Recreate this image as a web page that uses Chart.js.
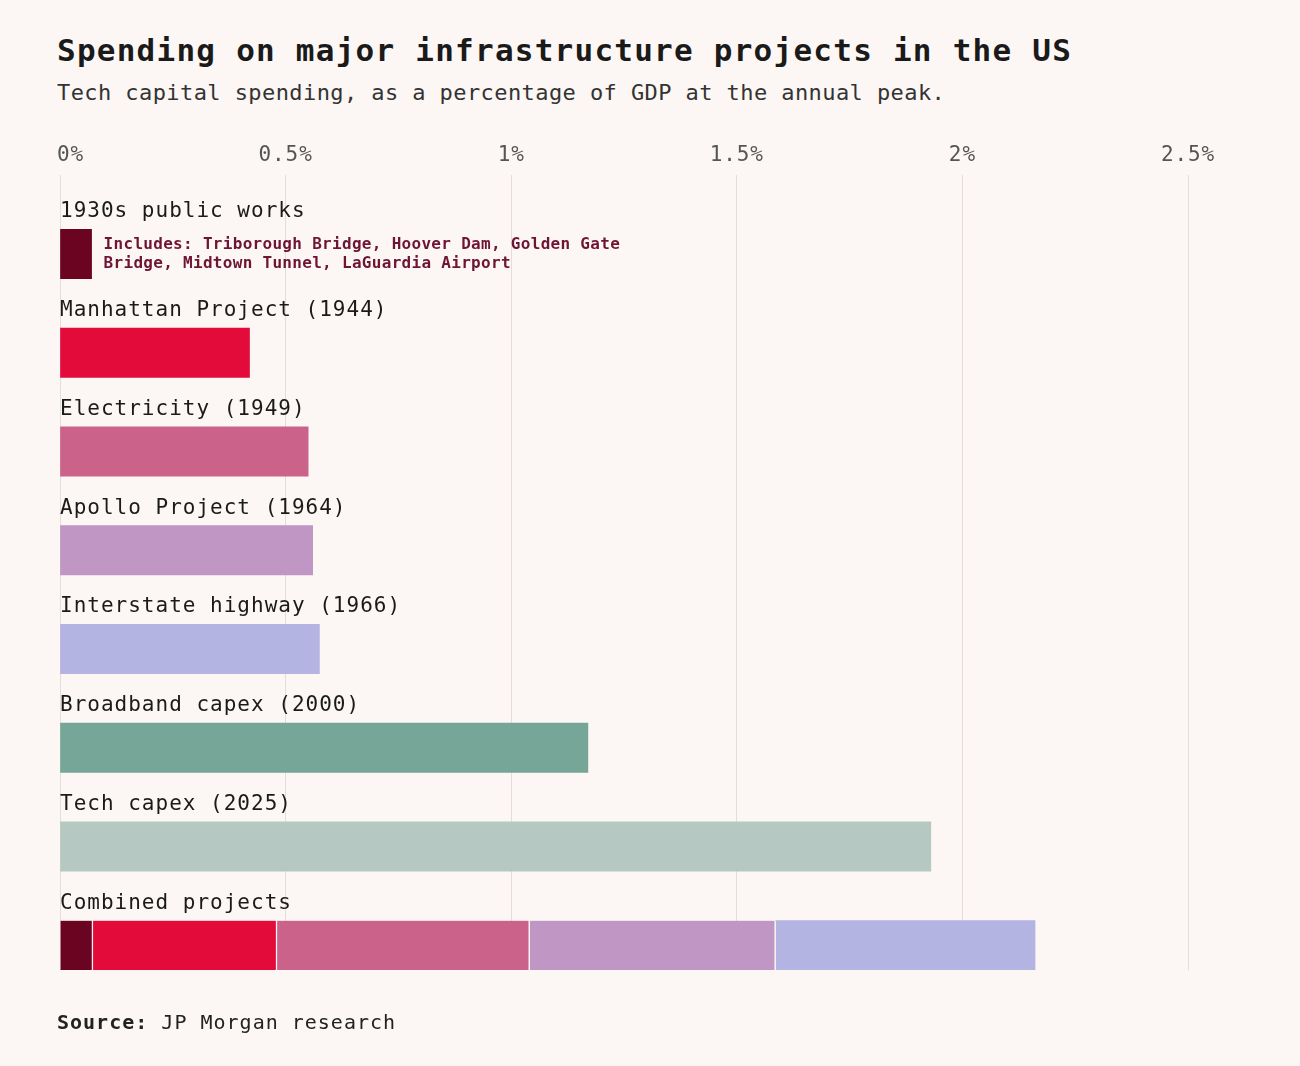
<!DOCTYPE html>
<html>
<head>
<meta charset="utf-8">
<script src="https://cdn.jsdelivr.net/npm/chart.js"></script>
<style>
  html, body { margin: 0; padding: 0; background: #fcf7f4; }
  body { width: 1300px; height: 1066px; position: relative; overflow: hidden; font-family: 'DejaVu Sans Mono', monospace; color: #1a1a1a; }
  .title { position: absolute; left: 57px; top: 35px; font-size: 31px; line-height: 31px; font-weight: bold; letter-spacing: 1.24px; white-space: nowrap; }
  .subtitle { position: absolute; left: 57px; top: 82px; font-size: 22px; line-height: 22px; letter-spacing: 0.42px; color: #333; white-space: nowrap; }
  .source { position: absolute; left: 57px; top: 1012px; font-size: 20px; line-height: 20px; letter-spacing: 1px; color: #222; white-space: nowrap; }
  .source b { font-weight: bold; }
  #wrap { position: absolute; left: 0; top: 0; width: 1300px; height: 1066px; }
</style>
</head>
<body>
<div class="title">Spending on major infrastructure projects in the US</div>
<div class="subtitle">Tech capital spending, as a percentage of GDP at the annual peak.</div>
<div id="wrap"><canvas id="chart"></canvas></div>
<div class="source"><b>Source:</b> JP Morgan research</div>

<script>
// values, % of GDP at annual peak
const categories = [
  '1930s public works',
  'Manhattan Project (1944)',
  'Electricity (1949)',
  'Apollo Project (1964)',
  'Interstate highway (1966)',
  'Broadband capex (2000)',
  'Tech capex (2025)',
  'Combined projects'
];
const peakShare = [0.07, 0.42, 0.55, 0.56, 0.575, 1.17, 1.93, null];
const barColors = ['#6a0420', '#e20b3a', '#cb628a', '#bf96c4', '#b4b4e2', '#76a698', '#b6c8c2', '#cccccc'];

const combinedParts = ['1930s public works', 'Manhattan Project', 'Electricity', 'Apollo Project', 'Interstate highway'];
const combinedShare = [0.073, 0.408, 0.56, 0.545, 0.575];

const tickValues = [0, 0.5, 1, 1.5, 2, 2.5];
const tickLabels = ['0%', '0.5%', '1%', '1.5%', '2%', '2.5%'];

const noteLines = ['Includes: Triborough Bridge, Hoover Dam, Golden Gate', 'Bridge, Midtown Tunnel, LaGuardia Airport'];

const MONO = "'DejaVu Sans Mono', monospace";
const BG = '#fcf7f4';

// spacer takes the top half of each row so the label can sit above the bar
const datasets = [
  { label: 'spacer', data: categories.map(() => null), stack: 'label', backgroundColor: 'transparent' },
  { label: 'Peak', data: peakShare, stack: 'bar', backgroundColor: barColors }
];
combinedParts.forEach((name, i) => {
  datasets.push({
    label: name,
    data: categories.map((c, j) => j === categories.length - 1 ? combinedShare[i] : null),
    stack: 'bar',
    backgroundColor: barColors[i],
    borderColor: BG,
    borderWidth: { left: 0, right: i < combinedParts.length - 1 ? 1.5 : 0, top: 0, bottom: 0 },
    borderSkipped: false
  });
});

const labelPlugin = {
  id: 'rowLabels',
  afterDraw(chart) {
    const { ctx } = chart;
    const x = chart.scales.x, y = chart.scales.y;
    const band = y.getPixelForValue(1) - y.getPixelForValue(0);
    ctx.save();
    ctx.textBaseline = 'alphabetic';

    // axis tick labels
    ctx.font = '21px ' + MONO;
    ctx.letterSpacing = '0.9px';
    ctx.fillStyle = '#555';
    tickValues.forEach((v, i) => {
      const px = x.getPixelForValue(v);
      ctx.textAlign = i === 0 ? 'left' : 'center';
      ctx.fillText(tickLabels[i], i === 0 ? px - 3 : px, chart.chartArea.top - 19);
    });

    // row labels
    ctx.fillStyle = '#1a1a1a';
    ctx.textAlign = 'left';
    ctx.letterSpacing = '1px';
    categories.forEach((c, i) => {
      ctx.fillText(c, x.left, y.getPixelForValue(i) - 12);
    });

    // note next to the 1930s bar
    const barMid = y.getPixelForValue(0) + band / 4;
    const nx = x.getPixelForValue(peakShare[0]) + 12;
    ctx.font = 'bold 16px ' + MONO;
    ctx.letterSpacing = '0.3px';
    ctx.fillStyle = '#6e1434';
    ctx.fillText(noteLines[0], nx, barMid - 5);
    ctx.fillText(noteLines[1], nx, barMid + 14);
    ctx.restore();
  }
};

new Chart(document.getElementById('chart'), {
  type: 'bar',
  data: { labels: categories, datasets },
  options: {
    indexAxis: 'y',
    responsive: true,
    maintainAspectRatio: false,
    animation: false,
    layout: { padding: { left: 60, right: 112, top: 175, bottom: 96 } },
    datasets: { bar: { categoryPercentage: 1, barPercentage: 1 } },
    scales: {
      x: {
        position: 'top',
        stacked: true,
        min: 0,
        max: 2.5,
        afterBuildTicks: s => { s.ticks = tickValues.map(v => ({ value: v })); },
        afterFit: s => { s.height = 5; },
        ticks: { display: false },
        grid: { color: '#e4ddd9', lineWidth: 1, drawTicks: true, tickLength: 5 },
        border: { display: false }
      },
      y: {
        display: false,
        stacked: true
      }
    },
    plugins: {
      legend: { display: false },
      tooltip: { enabled: false }
    }
  },
  plugins: [labelPlugin]
});
</script>
</body>
</html>
